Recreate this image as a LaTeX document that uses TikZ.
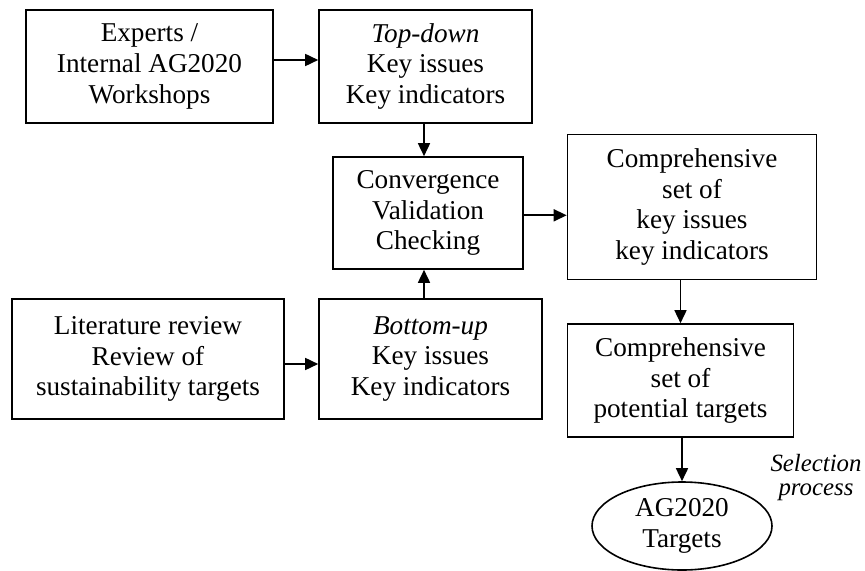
\documentclass[tikz,border=0pt]{standalone}
\usepackage{fontspec}
\setmainfont{Liberation Serif}
\usetikzlibrary{arrows.meta,shapes.geometric}
\tikzset{
    box/.style={draw, line width=0.8pt, align=center, inner sep=0pt, font=\fontsize{13.6}{15.3}\selectfont},
    goal/.style={draw, ellipse, line width=0.8pt, align=center, inner sep=0pt, font=\fontsize{13.6}{15.3}\selectfont},
    arr/.style={line width=0.8pt, -{Triangle[length=6.5pt,width=6pt]}}
}

\begin{document}
\begin{tikzpicture}[x=0.5pt,y=-0.5pt]
    \useasboundingbox (0,0) rectangle (865,571); % page
    \node[box,minimum width=123.5pt,minimum height=56.5pt] (experts) at (149.5,66.5) {Experts /\\Internal AG2020\\Workshops}; % experts
    \node[box,minimum width=106.5pt,minimum height=56.5pt] (topdown) at (425.5,66.5) {\textit{Top-down}\\Key issues\\Key indicators}; % top-down
    \node[box,minimum width=95pt,minimum height=56pt] (conv) at (428,213) {Convergence\\Validation\\Checking}; % convergence
    \node[box,minimum width=124.5pt,minimum height=72.5pt] (compset) at (692,207) {Comprehensive\\set of\\key issues\\key indicators}; % comprehensive set 1
    \node[box,minimum width=136pt,minimum height=60pt] (litrev) at (148,359) {Literature review\\Review of\\sustainability targets}; % literature
    \node[box,minimum width=111.5pt,minimum height=60pt] (bottomup) at (430.5,359) {\textit{Bottom-up}\\Key issues\\Key indicators}; % bottom-up
    \node[box,minimum width=113pt,minimum height=56.5pt] (comptarg) at (680.5,380.5) {Comprehensive\\set of\\potential targets}; % comprehensive set 2
    \node[goal,minimum width=90pt,minimum height=44pt] (targets) at (682,526) {AG2020\\Targets}; % targets
    \node[align=center,font=\fontsize{12.4}{12}\selectfont\itshape] (select) at (816,478) {Selection\\process}; % selection label
    \draw[arr] ([yshift=3.25pt]experts.east) -- ([yshift=3.25pt]topdown.west); % experts to top-down
    \draw[arr] ([xshift=-0.75pt]topdown.south) -- ([xshift=-0.75pt]topdown.south |- conv.north); % top-down to convergence
    \draw[arr] ([xshift=-3.25pt]bottomup.north) -- ([xshift=-3.25pt]bottomup.north |- conv.south); % bottom-up to convergence
    \draw[arr] ([yshift=-2.5pt]litrev.east) -- ([yshift=-2.5pt]litrev.east -| bottomup.west); % literature to bottom-up
    \draw[arr] ([yshift=-1.15pt]conv.east) -- ([yshift=-1.15pt]conv.east -| compset.west); % convergence to set 1
    \draw[arr] (compset.south -| comptarg) -- (comptarg.north); % set 1 to set 2
    \draw[arr] (comptarg.south -| targets) -- (targets.north); % set 2 to targets
\end{tikzpicture}
\end{document}
